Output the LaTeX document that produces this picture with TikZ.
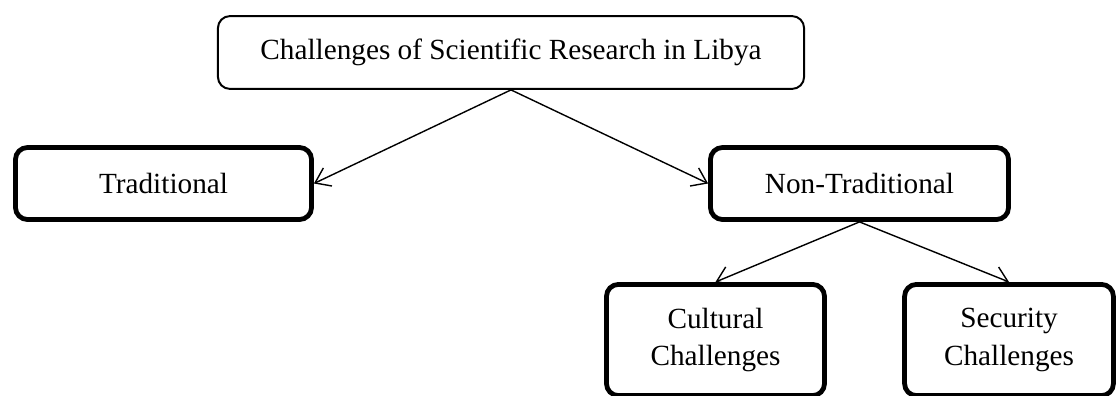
\documentclass[tikz,border=0pt]{standalone}
\usepackage{fontspec}
\setmainfont{Liberation Serif}
\usetikzlibrary{arrows.meta, positioning}

\begin{document}
\begin{tikzpicture}[
    x=0.025cm, y=-0.025cm,
    topbox/.style={rectangle, rounded corners=0.3cm, draw=black, line width=1.4pt,
                   minimum width=14.65cm, minimum height=1.82cm, align=center,
                   font=\fontsize{20.8}{27}\selectfont},
    catbox/.style={rectangle, rounded corners=0.3cm, draw=black, line width=3.4pt,
                   align=center, font=\fontsize{20.8}{27}\selectfont},
    arrow/.style={-{Straight Barb[length=3.5mm, width=5mm]}, line width=1pt}
]
    \useasboundingbox (0,0) rectangle (1118,395);
    \clip (0,0) rectangle (1118,395);

    \node[topbox] (root) at (511,52.5) {Challenges of Scientific Research in Libya};
    \node[catbox, minimum width=7.4cm, minimum height=1.8cm] (trad) at (163.5,183.5) {Traditional};
    \node[catbox, minimum width=7.45cm, minimum height=1.8cm] (nontrad) at (859.5,183.5) {Non-Traditional};
    \node[catbox, minimum width=5.45cm, minimum height=2.78cm] (cult) at (715.5,340) {Cultural\\Challenges};
    \node[catbox, minimum width=5.22cm, minimum height=2.78cm] (secu) at (1009,340) {Security\\Challenges};

    \draw[arrow] (root.south) -- (trad.east);
    \draw[arrow] (root.south) -- (nontrad.west);
    \draw[arrow] (nontrad.south) -- (cult.north);
    \draw[arrow] (nontrad.south) -- (secu.north);
\end{tikzpicture}
\end{document}
